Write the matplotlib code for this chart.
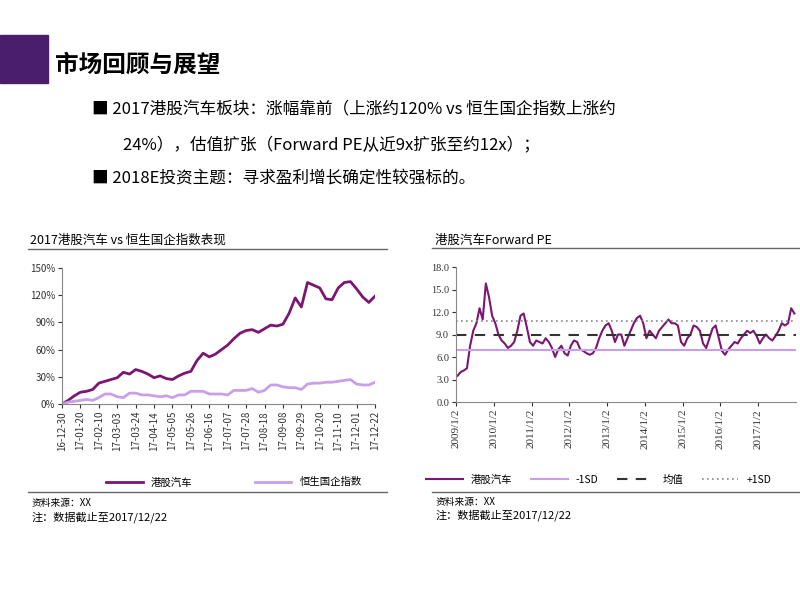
import matplotlib
matplotlib.use("Agg")
import matplotlib.pyplot as plt
import numpy as np

plt.rcParams["font.family"] = ["Noto Sans CJK SC"]

# ---------------- data ----------------
week_labels = ["16-12-30", "17-01-20", "17-02-10", "17-03-03", "17-03-24", "17-04-14",
               "17-05-05", "17-05-26", "17-06-16", "17-07-07", "17-07-28", "17-08-18",
               "17-09-08", "17-09-29", "17-10-20", "17-11-10", "17-12-01", "17-12-22"]
auto_pct = [0, 4, 9, 13, 14, 16, 23, 25, 27, 29, 35, 33, 38, 36, 33, 29, 31, 28, 27, 31,
            34, 36, 48, 56, 52, 55, 60, 65, 72, 78, 81, 82, 79, 83, 87, 86, 88, 100, 117, 107,
            134, 131, 128, 116, 115, 128, 134, 135, 127, 118, 112, 119]
hscei_pct = [0, 2, 3, 4, 5, 4, 7, 11, 11, 8, 7, 12, 12, 10, 10, 9, 8, 9, 7, 10,
             10, 14, 14, 14, 11, 11, 11, 10, 15, 15, 15, 17, 13, 15, 21, 21, 19, 18, 18, 16,
             22, 23, 23, 24, 24, 25, 26, 27, 22, 21, 21, 24]

pe_years = [2009, 2010, 2011, 2012, 2013, 2014, 2015, 2016, 2017]
pe_year_labels = ["2009/1/2", "2010/1/2", "2011/1/2", "2012/1/2", "2013/1/2",
                  "2014/1/2", "2015/1/2", "2016/1/2", "2017/1/2"]
pe_monthly = [
    3.5, 4.0, 4.2, 4.5, 7.5, 9.5, 10.5, 12.5, 11.0, 15.8, 14.0, 11.5,
    10.5, 9.0, 8.2, 7.8, 7.2, 7.5, 8.0, 9.5, 11.5, 11.8, 10.0, 8.0,
    7.5, 8.2, 8.0, 7.8, 8.5, 8.0, 7.2, 6.0, 7.0, 7.5, 6.5, 6.2,
    7.5, 8.2, 8.0, 7.0, 6.8, 6.5, 6.3, 6.5, 7.2, 8.5, 9.5, 10.2,
    10.5, 9.5, 8.0, 9.0, 9.0, 7.5, 8.5, 9.5, 10.5, 11.2, 11.5, 10.5,
    8.5, 9.5, 9.0, 8.5, 9.5, 10.0, 10.5, 11.0, 10.5, 10.5, 10.2, 8.0,
    7.5, 8.5, 9.0, 10.2, 10.0, 9.5, 7.8, 7.2, 8.5, 9.8, 10.2, 8.5,
    6.8, 6.3, 7.0, 7.5, 8.0, 7.8, 8.5, 9.0, 9.5, 9.2, 9.5, 8.8,
    7.8, 8.5, 9.0, 8.5, 8.2, 8.8, 9.5, 10.5, 10.2, 10.5, 12.5, 11.8,
]
pe_minus_sd = 7.0
pe_mean = 8.9
pe_plus_sd = 10.8

dark = "#7B1673"
light = "#C9A0E8"

fig = plt.figure(figsize=(8, 6), dpi=100)

# ---------------- slide header ----------------
fig.patches.append(plt.Rectangle((0, 1 - 83/600), 48/800, 48/600, transform=fig.transFigure,
                                 color="#4B1E6B"))
fig.text(55/800, 1 - 65/600, "市场回顾与展望", fontsize=17, fontweight="bold",
         va="center", family="Noto Sans CJK SC")
fig.text(92/800, 1 - 110/600, "■ 2017港股汽车板块：涨幅靠前（上涨约120% vs 恒生国企指数上涨约",
         fontsize=12, va="center")
fig.text(123/800, 1 - 145/600, "24%），估值扩张（Forward PE从近9x扩张至约12x）；",
         fontsize=12, va="center")
fig.text(92/800, 1 - 178/600, "■ 2018E投资主题：寻求盈利增长确定性较强标的。",
         fontsize=12, va="center")

# ---------------- left chart ----------------
ax1 = fig.add_axes([62/800, 1 - 404/600, 313/800, 136/600])
x = np.arange(len(auto_pct))
ax1.plot(x, auto_pct, color=dark, lw=2, label="港股汽车")
ax1.plot(x, hscei_pct, color=light, lw=2, label="恒生国企指数")
ax1.set_ylim(0, 150)
ax1.set_yticks(range(0, 151, 30))
ax1.set_yticklabels([f"{v}%" for v in range(0, 151, 30)], fontsize=7)
ax1.set_xlim(0, len(auto_pct) - 1)
ax1.set_xticks(np.arange(0, len(auto_pct), 3))
ax1.set_xticklabels(week_labels, rotation=90, fontsize=7)
for s in ["top", "right"]:
    ax1.spines[s].set_visible(False)
for s in ["left", "bottom"]:
    ax1.spines[s].set_color("#888888")
ax1.tick_params(length=3, colors="#333333", pad=2)
ax1.legend(loc="upper center", bbox_to_anchor=(0.55, -0.47), ncol=2, frameon=False,
           fontsize=7.5, columnspacing=6, handlelength=3.5)

fig.text(30/800, 1 - 240/600, "2017港股汽车 vs 恒生国企指数表现", fontsize=9, va="center")
fig.add_artist(plt.Line2D([28/800, 387/800], [1 - 249/600] * 2, color="#666666", lw=1))
fig.add_artist(plt.Line2D([28/800, 387/800], [1 - 492/600] * 2, color="#666666", lw=1))
fig.text(32/800, 1 - 503/600, "资料来源：XX", fontsize=7, va="center")
fig.text(32/800, 1 - 517/600, "注：数据截止至2017/12/22", fontsize=8, va="center")

# ---------------- right chart ----------------
ax2 = fig.add_axes([456/800, 1 - 402/600, 340/800, 135/600])
t = np.array(pe_years[0] + np.arange(len(pe_monthly)) / 12.0 + 0.04)
ax2.plot(t, pe_monthly, color=dark, lw=1.5, label="港股汽车")
ax2.axhline(pe_minus_sd, color=light, lw=1.5, label="-1SD")
ax2.axhline(pe_mean, color="#333333", lw=1.5, ls=(0, (5, 4)), label="均值")
ax2.axhline(pe_plus_sd, color="#888888", lw=1.2, ls=(0, (1, 2)), label="+1SD")
ax2.set_ylim(0, 18)
ax2.set_yticks(np.arange(0, 18.1, 3))
ax2.set_yticklabels([f"{v:.1f}" for v in np.arange(0, 18.1, 3)], fontsize=7.5,
                    family="Liberation Serif")
ax2.set_xlim(pe_years[0], 2018)
ax2.set_xticks(pe_years)
ax2.set_xticklabels(pe_year_labels, rotation=90, fontsize=8, family="Liberation Serif")
for s in ["top", "right"]:
    ax2.spines[s].set_visible(False)
for s in ["left", "bottom"]:
    ax2.spines[s].set_color("#888888")
ax2.tick_params(length=3, colors="#333333", pad=2)
leg = ax2.legend(loc="upper center", bbox_to_anchor=(0.42, -0.47), ncol=4, frameon=False,
                 fontsize=7.5, columnspacing=1.8, handlelength=3.5)

fig.text(435/800, 1 - 240/600, "港股汽车Forward PE", fontsize=9, va="center")
fig.add_artist(plt.Line2D([432/800, 1.0], [1 - 248/600] * 2, color="#666666", lw=1))
fig.add_artist(plt.Line2D([432/800, 1.0], [1 - 492/600] * 2, color="#666666", lw=1))
fig.text(436/800, 1 - 502/600, "资料来源：XX", fontsize=7, va="center")
fig.text(436/800, 1 - 515/600, "注：数据截止至2017/12/22", fontsize=8, va="center")

fig.savefig("out.png", dpi=100)
